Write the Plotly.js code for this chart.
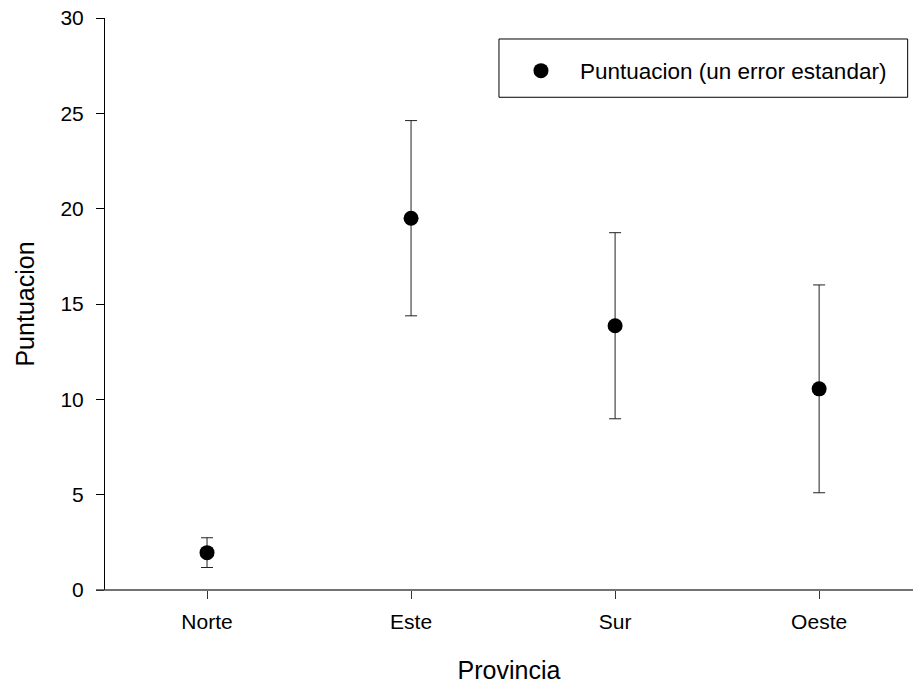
<!DOCTYPE html>
<html>
<head>
<meta charset="utf-8">
<script src="https://cdn.plot.ly/plotly-3.0.1.min.js"></script>
<style>html,body{margin:0;padding:0;background:#fff;}#chart{width:913px;height:685px;}</style>
</head>
<body>
<div id="chart"></div>
<script>
const categories = ["Norte", "Este", "Sur", "Oeste"];
const puntuacion = [1.96, 19.5, 13.86, 10.55];
const errorEstandar = [0.78, 5.12, 4.88, 5.45];
const yTicks = [0, 5, 10, 15, 20, 25, 30];
const seriesName = "Puntuacion (un error estandar)";

const font = "Arial, 'Liberation Sans', sans-serif";

const trace = {
  x: categories,
  y: puntuacion,
  type: "scatter",
  mode: "markers",
  name: seriesName,
  marker: {color: "#000", size: 15, symbol: "circle"},
  error_y: {type: "data", array: errorEstandar, visible: true, color: "#222", thickness: 1, width: 6},
  showlegend: true
};

const layout = {
  width: 913, height: 685,
  margin: {l: 105, r: 0, t: 18, b: 95},
  paper_bgcolor: "#fff", plot_bgcolor: "#fff",
  font: {family: font, size: 21, color: "#000"},
  showlegend: true,
  legend: {
    x: 0.4913, xanchor: "left", y: 0.9073, yanchor: "middle",
    bgcolor: "rgba(0,0,0,0)", borderwidth: 0,
    font: {family: font, size: 22.5, color: "#000"},
    itemwidth: 68
  },
  xaxis: {
    type: "category",
    range: [-0.5, 3.46],
    showgrid: false, zeroline: false, showline: false,
    ticks: "outside", ticklen: 8, tickcolor: "#333", tickwidth: 1,
    ticklabelstandoff: 5,
    tickfont: {family: font, size: 21, color: "#000"},
    title: {text: "Provincia", font: {family: font, size: 25, color: "#000"}, standoff: 29}
  },
  yaxis: {
    range: [0, 30],
    tickvals: yTicks,
    showgrid: false, zeroline: false,
    showline: true, linecolor: "#000", linewidth: 1,
    ticks: "outside", ticklen: 8, tickcolor: "#000", tickwidth: 1,
    ticklabelstandoff: 8,
    tickfont: {family: font, size: 21, color: "#000"},
    title: {text: "Puntuacion", font: {family: font, size: 25, color: "#000"}, standoff: 18}
  },
  shapes: [
    {type: "line", xref: "paper", yref: "paper", x0: -0.0111, x1: 1, y0: 0, y1: 0,
     line: {color: "#444", width: 1.5}},
    {type: "rect", xref: "paper", yref: "paper", x0: 0.4876, x1: 0.9934, y0: 0.8614, y1: 0.9633,
     line: {color: "#000", width: 1}, fillcolor: "rgba(0,0,0,0)"}
  ]
};

Plotly.newPlot("chart", [trace], layout, {displayModeBar: false, staticPlot: true});
</script>
</body>
</html>
